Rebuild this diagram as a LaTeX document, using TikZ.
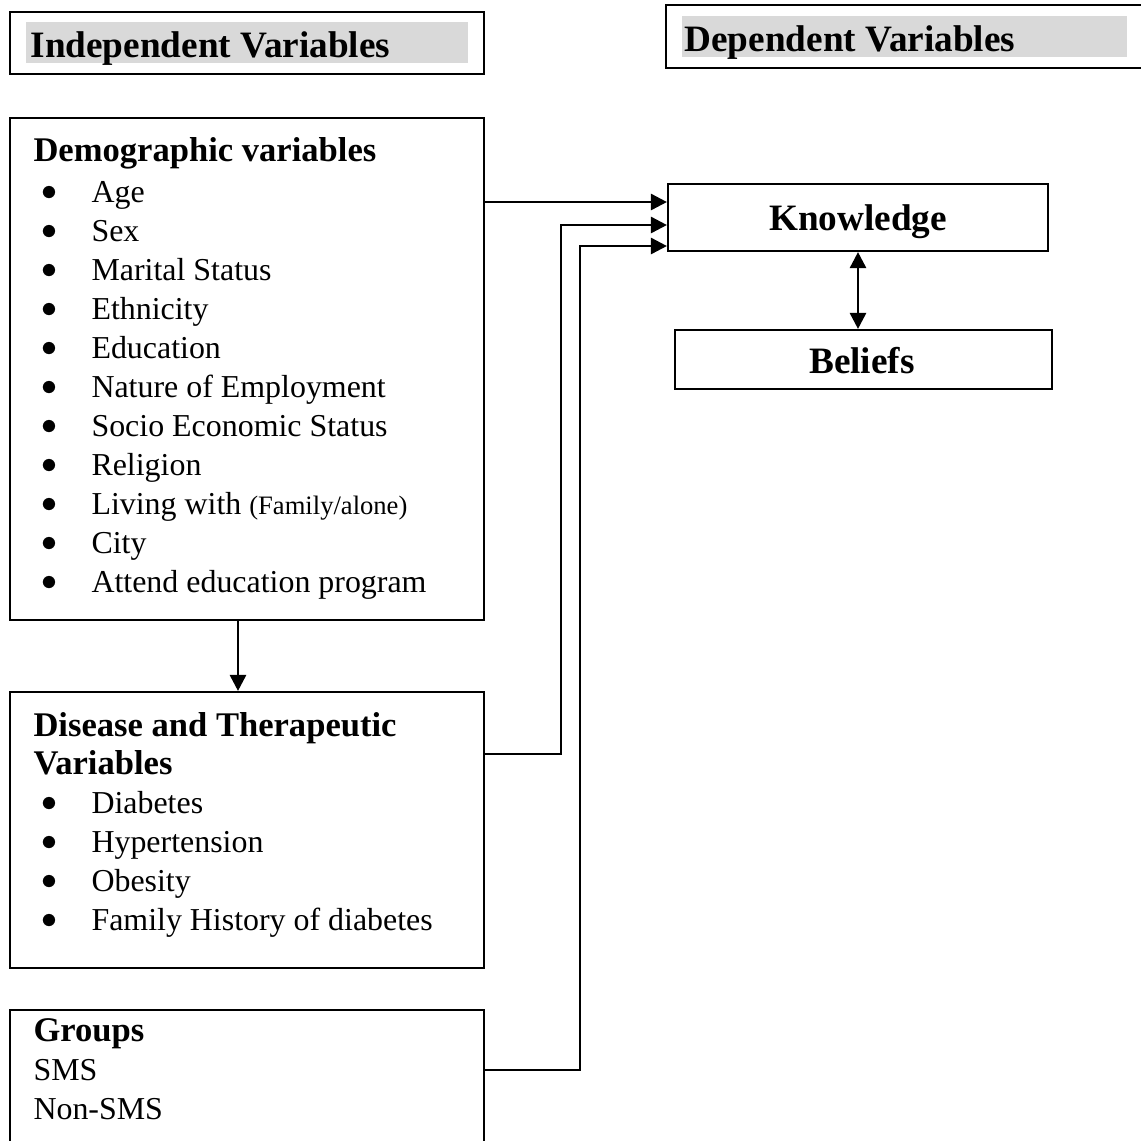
\documentclass[tikz,border=0pt]{standalone}
\usepackage{fontspec}
\setmainfont{Liberation Serif}
\usetikzlibrary{arrows.meta,fit}

\tikzset{
  box/.style={draw,line width=0.8pt,inner sep=0pt},
  arr/.style={line width=1pt,-{Triangle[length=6pt,width=6pt]}},
  darr/.style={line width=1pt,{Triangle[length=6pt,width=6pt]}-{Triangle[length=6pt,width=6pt]}},
  txt/.style={anchor=base west,inner sep=0pt,font=\fontsize{12}{14}\selectfont},
  blt/.style={anchor=base,inner sep=0pt,font=\fontsize{13}{13}\selectfont},
  ttl/.style={anchor=base west,inner sep=0pt,font=\fontsize{13}{15}\selectfont\bfseries},
  hd/.style={inner sep=0pt,font=\fontsize{14}{16}\selectfont\bfseries}
}

\begin{document}
\begin{tikzpicture}[x=0.376pt,y=-0.376pt]
\useasboundingbox (0,0) rectangle (1141,1140);
\clip (0,0) rectangle (1141,1140);
% headers
\node[box,fit={(10,12)(484,74)}] (indep) {};
\fill[black!15] (26,22) rectangle (468,63);
\node[hd,anchor=base west] (indept) at (30,57) {Independent Variables};
\node[box,fit={(666,5)(1150,68)}] (dep) {};
\fill[black!15] (682,16) rectangle (1127,57);
\node[hd,anchor=base west] (dept) at (684,51) {Dependent Variables};

% boxes
\node[box,fit={(10,118)(484,620)}] (demo) {};
\node[box,fit={(10,692)(484,968)}] (dis) {};
\node[box,fit={(10,1010)(484,1170)}] (grp) {};
\node[box,fit={(668,184)(1048,251)}] (know) {};
\node[box,fit={(675,330)(1052,389)}] (bel) {};
\node[hd,anchor=base] (knowt) at (858,230) {Knowledge};
\node[hd,anchor=base] (belt) at (862,373) {Beliefs};

% demographic
\node[ttl] (demot) at (33,161) {Demographic variables};
\foreach \t [count=\i from 0] in {Age,Sex,Marital Status,Ethnicity,Education,
  Nature of Employment,Socio Economic Status,Religion,
  {Living with {\fontsize{10}{12}\selectfont(Family/alone)}},City,
  Attend education program}{
  \node[blt] (db\i) at (49,200+39*\i) {$\bullet$};
  \node[txt] (dm\i) at (91,202+39*\i) {\t};
}

% disease
\node[ttl] (dist1) at (33,736) {Disease and Therapeutic};
\node[ttl] (dist2) at (33,774) {Variables};
\foreach \t [count=\i from 0] in {Diabetes,Hypertension,Obesity,
  Family History of diabetes}{
  \node[blt] (sb\i) at (49,811+39*\i) {$\bullet$};
  \node[txt] (ds\i) at (91,813+39*\i) {\t};
}

% groups
\node[ttl] (grpt) at (33,1041) {Groups};
\node[txt] (sms) at (33,1080) {SMS};
\node[txt] (nsms) at (33,1119) {Non-SMS};

% arrows
\draw[arr] (demo.east |- 0,202) -- (know.west |- 0,202);
\draw[arr] (dis.east |- 0,754) -| (561,225) -- (know.west |- 0,225);
\draw[arr] (grp.east |- 0,1070) -| (580,246) -- (know.west |- 0,246);
\draw[arr] (demo.south -| 238,0) -- (dis.north -| 238,0);
\draw[darr] (know.south) -- (bel.north -| know.south);
\end{tikzpicture}
\end{document}
